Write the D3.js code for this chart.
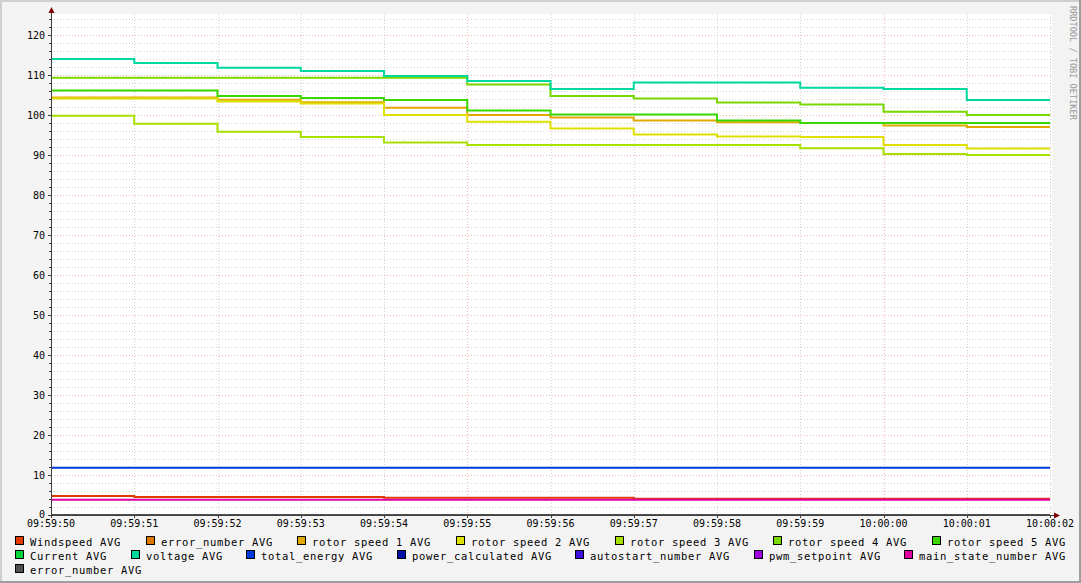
<!DOCTYPE html>
<html><head><meta charset="utf-8">
<script src="https://cdn.jsdelivr.net/npm/d3@7"></script>
<style>html,body{margin:0;padding:0;background:#f3f3f3;}svg{display:block;}</style>
</head><body>
<svg id="chart" width="1081" height="583"></svg>
<script>
// ---- data ----
const timeLabels = ["09:59:50","09:59:51","09:59:52","09:59:53","09:59:54","09:59:55","09:59:56","09:59:57","09:59:58","09:59:59","10:00:00","10:00:01","10:00:02"];
const yTickValues = [0,10,20,30,40,50,60,70,80,90,100,110,120];

const windspeed      = [4.75,4.5,4.5,4.5,4.3,4.3,4.3,4.05,4.05,4.05,4.05,4.05];
const errorNumber    = [0,0,0,0,0,0,0,0,0,0,0,0];
const rotorSpeed1    = [104.4,104.4,103.8,103.2,101.8,100.0,99.4,98.6,98.2,98.0,97.4,97.0];
const rotorSpeed2    = [104.1,104.1,103.4,102.9,100.0,98.3,96.6,95.1,94.6,94.5,92.5,91.6];
const rotorSpeed3    = [99.8,97.8,95.8,94.5,93.1,92.5,92.5,92.5,92.5,91.7,90.25,90.0];
const rotorSpeed4    = [109.3,109.3,109.3,109.3,109.3,107.6,104.75,104.1,103.1,102.6,100.8,100.0];
const rotorSpeed5    = [106.1,106.1,104.75,104.25,103.75,101.1,100.1,100.1,98.6,98.0,98.0,98.0];
const current        = [0,0,0,0,0,0,0,0,0,0,0,0];
const voltage        = [114.0,113.0,111.8,111.0,109.75,108.5,106.5,108.1,108.1,106.8,106.5,103.75];
const totalEnergy    = [11.8,11.8,11.8,11.8,11.8,11.8,11.8,11.8,11.8,11.8,11.8,11.8];
const powerCalc      = [0,0,0,0,0,0,0,0,0,0,0,0];
const autostart      = [0,0,0,0,0,0,0,0,0,0,0,0];
const pwmSetpoint    = [0,0,0,0,0,0,0,0,0,0,0,0];
const mainState      = [3.8,3.8,3.8,3.8,3.8,3.8,3.8,3.8,3.8,3.8,3.8,3.8];
const errorNumber2   = [0,0,0,0,0,0,0,0,0,0,0,0];

const seriesNames  = ["Windspeed AVG","error_number AVG","rotor speed 1 AVG","rotor speed 2 AVG","rotor speed 3 AVG","rotor speed 4 AVG","rotor speed 5 AVG","Current AVG","voltage AVG","total_energy AVG","power_calculated AVG","autostart_number AVG","pwm_setpoint AVG","main_state_number AVG","error_number AVG"];
const seriesColors = ["#e03c00","#e07800","#e0a800","#e0e000","#a8e000","#78d800","#38d800","#00d838","#00d8a0","#0038e0","#0010a8","#4010e0","#a000e0","#e000a0","#505050"];
const seriesValues = [windspeed,errorNumber,rotorSpeed1,rotorSpeed2,rotorSpeed3,rotorSpeed4,rotorSpeed5,current,voltage,totalEnergy,powerCalc,autostart,pwmSetpoint,mainState,errorNumber2];
const legendRows = [[0,1,2,3,4,5,6],[7,8,9,10,11,12,13],[14]];

// ---- setup ----
const W = 1081, H = 583;
const svg = d3.select("#chart");
const parse = d3.timeParse("%H:%M:%S");
const times = timeLabels.map(parse);
const x = d3.scaleTime().domain([times[0], times[times.length-1]]).range([51, 1050]);
const y = d3.scaleLinear().domain([0, 125.25]).range([515, 14]);
const plotL = 51, plotR = 1052, plotT = 14, plotB = 515;

// background & frame
svg.append("rect").attr("width",W).attr("height",H).attr("fill","#f3f3f3");
svg.append("rect").attr("x",0).attr("y",0).attr("width",W).attr("height",2).attr("fill","#cfcfcf");
svg.append("rect").attr("x",0).attr("y",0).attr("width",2).attr("height",H).attr("fill","#cfcfcf");
svg.append("rect").attr("x",W-2).attr("y",0).attr("width",2).attr("height",H).attr("fill","#9e9e9e");
svg.append("rect").attr("x",0).attr("y",H-2).attr("width",W).attr("height",2).attr("fill","#9e9e9e");

// canvas
svg.append("rect").attr("x",plotL).attr("y",plotT).attr("width",plotR-plotL).attr("height",plotB-plotT).attr("fill","#ffffff");

// grid
const minorCol = "rgba(143,143,143,0.38)", majorCol = "rgba(222,80,80,0.4)";
const grid = svg.append("g").attr("shape-rendering","crispEdges");
const minorY = d3.range(2, 125.25, 2).filter(v => v % 10 !== 0);
grid.selectAll(".hmin").data(minorY).join("line")
  .attr("x1",plotL).attr("x2",plotR)
  .attr("y1",d=>Math.round(y(d))+0.5).attr("y2",d=>Math.round(y(d))+0.5)
  .attr("stroke",minorCol).attr("stroke-dasharray","1,2");
const secTicks = times.slice(1);
grid.selectAll(".vmin").data(secTicks.filter(t => t.getSeconds() % 5 !== 0)).join("line")
  .attr("y1",plotT).attr("y2",plotB)
  .attr("x1",d=>Math.round(x(d))+0.5).attr("x2",d=>Math.round(x(d))+0.5)
  .attr("stroke",minorCol).attr("stroke-dasharray","1,2");
grid.selectAll(".hmaj").data(yTickValues.filter(v=>v>0)).join("line")
  .attr("x1",plotL).attr("x2",plotR)
  .attr("y1",d=>Math.round(y(d))+0.5).attr("y2",d=>Math.round(y(d))+0.5)
  .attr("stroke",majorCol).attr("stroke-dasharray","1,2");
grid.selectAll(".vmaj").data(secTicks.filter(t => t.getSeconds() % 5 === 0)).join("line")
  .attr("y1",plotT).attr("y2",plotB)
  .attr("x1",d=>Math.round(x(d))+0.5).attr("x2",d=>Math.round(x(d))+0.5)
  .attr("stroke",majorCol).attr("stroke-dasharray","1,2");

// series
const line = d3.line().x(d=>x(d.t)).y(d=>y(d.v)).curve(d3.curveStepAfter);
seriesValues.forEach((vals,i) => {
  const pts = vals.map((v,j)=>({t:times[j], v}));
  pts.push({t:times[vals.length], v:vals[vals.length-1]});
  svg.append("path").datum(pts).attr("d",line)
    .attr("fill","none").attr("stroke",seriesColors[i]).attr("stroke-width",2);
});

// axes
const axisCol = "#404040";
const ax = svg.append("g").attr("shape-rendering","crispEdges");
ax.append("line").attr("x1",plotL+0.5).attr("x2",plotL+0.5).attr("y1",plotB+3).attr("y2",9).attr("stroke",axisCol);
ax.append("line").attr("x1",plotL-3).attr("x2",plotR+2).attr("y1",plotB+0.5).attr("y2",plotB+0.5).attr("stroke",axisCol);
ax.selectAll(".yt").data(d3.range(0,125.25,2)).join("line")
  .attr("x1",d=> d%10===0 ? plotL-3 : plotL-2).attr("x2",plotL)
  .attr("y1",d=>Math.round(y(d))+0.5).attr("y2",d=>Math.round(y(d))+0.5).attr("stroke",axisCol);
ax.selectAll(".xt").data(times).join("line")
  .attr("y1",plotB+1).attr("y2",plotB+3)
  .attr("x1",d=>Math.round(x(d))+0.5).attr("x2",d=>Math.round(x(d))+0.5).attr("stroke",axisCol);
// arrows
svg.append("path").attr("d",`M${plotL-2.5},13 L${plotL+3.5},13 L${plotL+0.5},7 Z`).attr("fill","#7f0000");
svg.append("path").attr("d",`M${plotR+2},${plotB-2.5} L${plotR+2},${plotB+3.5} L${plotR+8},${plotB+0.5} Z`).attr("fill","#7f0000");

// tick labels
const font = "'DejaVu Sans Mono', monospace";
svg.selectAll(".ylab").data(yTickValues).join("text")
  .attr("x",45).attr("y",d=>y(d)+0.5 - (d===0 ? 1 : 0)).attr("text-anchor","end").attr("dominant-baseline","central")
  .attr("font-family",font).attr("font-size","10px").attr("fill","#000").text(d=>d);
svg.selectAll(".xlab").data(times).join("text")
  .attr("x",d=>x(d)).attr("y",523.5).attr("text-anchor","middle").attr("dominant-baseline","central")
  .attr("font-family",font).attr("font-size","10px").attr("fill","#000").text((d,i)=>timeLabels[i]);

// legend (justified like rrdtool)
const legL = 15, legR = 1066;
legendRows.forEach((row, r) => {
  const cy = 541 + r*14;
  const items = row.map(i => {
    const g = svg.append("g");
    g.append("rect").attr("x",0.5).attr("y",cy-4.5).attr("width",8).attr("height",8)
      .attr("fill",seriesColors[i]).attr("stroke","#000").attr("stroke-width",1).attr("shape-rendering","crispEdges");
    g.append("text").attr("x",15).attr("y",cy+0.5).attr("dominant-baseline","central")
      .attr("font-family",font).attr("font-size","10.5px").attr("letter-spacing","0.68px").attr("fill","#000")
      .text(seriesNames[i]);
    const w = 15 + seriesNames[i].length*7;
    return {g, w};
  });
  const total = d3.sum(items, d=>d.w);
  const last = r === legendRows.length-1;
  const gap = (!last && items.length>1) ? (legR-legL-total)/(items.length-1) : 20;
  let cx = legL;
  items.forEach(it => { it.g.attr("transform",`translate(${Math.round(cx)},0)`); cx += it.w + gap; });
});

// watermark
svg.append("text").attr("transform","translate(1072.5,6) rotate(90)")
  .attr("dominant-baseline","central").attr("font-family",font).attr("font-size","8.6px")
  .attr("fill","#9a9a9a").text("RRDTOOL / TOBI OETIKER");
</script>
</body></html>
